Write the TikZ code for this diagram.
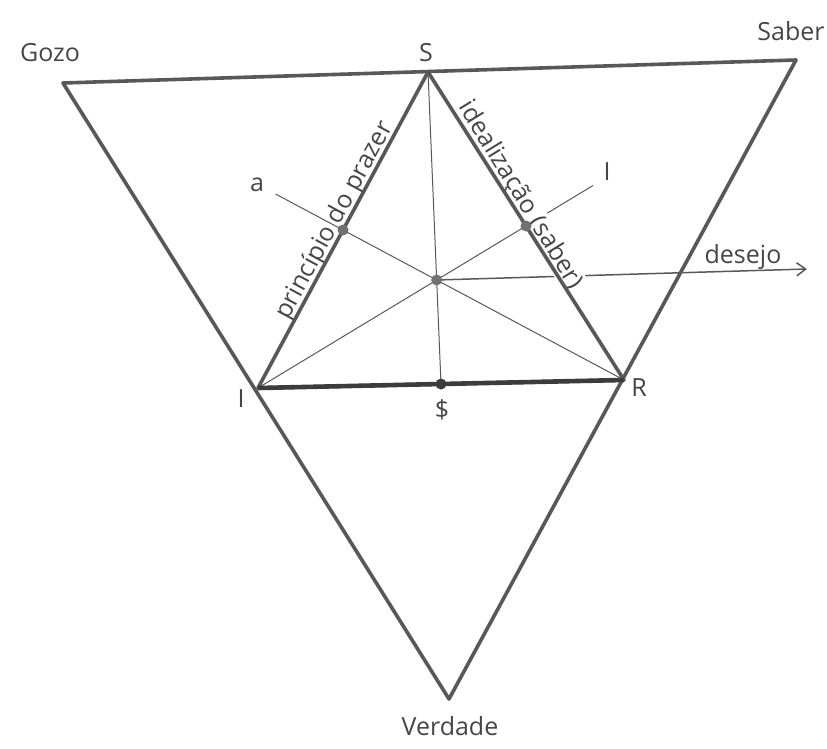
\documentclass[tikz,border=0pt]{standalone}
\usepackage{fontspec}
\setmainfont{Open Sans}
\usepackage{xcolor}
\usetikzlibrary{calc,arrows.meta}
\definecolor{traco}{RGB}{88,88,88}
\definecolor{escuro}{RGB}{60,60,60}
\definecolor{texto}{RGB}{70,70,70}

\begin{document}
\begin{tikzpicture}[x=1pt,y=1pt,yscale=-1,xscale=1,
    borda/.style={draw=traco,line width=3.6,line join=round},
    fino/.style={draw=traco,line width=1},
    ponto/.style={fill=traco!85},
    rotulo/.style={text=texto,font=\fontsize{25}{28}\selectfont,inner sep=1}]
\useasboundingbox (0,0) rectangle (827,749);
% Vertices
\coordinate (gozo) at (63,83);
\coordinate (saber) at (796,60);
\coordinate (verdade) at (449,699);
\coordinate (S) at (428,72);
\coordinate (I) at (258,388);
\coordinate (R) at (624,380);
\coordinate (mSI) at ($(S)!0.5!(I)$);
\coordinate (mSR) at ($(S)!0.5!(R)$);
\coordinate (mIR) at ($(I)!0.5!(R)$);
\coordinate (c) at ($(R)!2/3!(mSI)$);
\coordinate (aend) at ($(R)!1.24!(mSI)$);
\coordinate (iend) at ($(I)!1.25!(mSR)$);
\coordinate (desejoend) at (807,269);

%Straight Lines
\draw[fino] (R) -- (aend);
\draw[fino] (I) -- (iend);
\draw[fino] (S) -- (mIR);
\draw[fino,line width=1.5,-{Straight Barb[length=9,width=13]}] (c) -- (desejoend);

% Text Node
\node[rotulo,anchor=base,rotate=61.7] (prazer) at (340.6,223.8) {princípio do prazer};
% Text Node
\node[rotulo,anchor=base,rotate=-58.5,fill=white] (idealiz) at (514.6,198.7) {idealização (saber)};

%Triangles
\draw[borda] (gozo) -- (saber) -- (verdade) -- cycle;
\draw[borda] (S) -- (I) -- (R) -- cycle;
\draw[borda,draw=escuro,line width=4.6] (I) -- (R);

% Points
\fill[ponto] (mSI) circle (5.5);
\fill[ponto] (mSR) circle (5.5);
\fill[ponto] (c) circle (5.5);
\fill[escuro] (mIR) circle (5.5);

% Text Node
\node[rotulo] (gozolbl) at (50,53) {Gozo};
\node[rotulo] (saberlbl) at (791,31) {Saber};
\node[rotulo] (slbl) at (426,53) {S};
\node[rotulo] (albl) at (257,185) {a};
\node[rotulo] (ilbl) at (607,172) {I};
\node[rotulo] (desejolbl) at (743,257) {desejo};
\node[rotulo] (ivlbl) at (241,399) {I};
\node[rotulo] (rlbl) at (639,388) {R};
\node[rotulo] (sbarlbl) at (442,410) {\$};
\node[rotulo] (verdadelbl) at (450,726) {Verdade};
\end{tikzpicture}
\end{document}
